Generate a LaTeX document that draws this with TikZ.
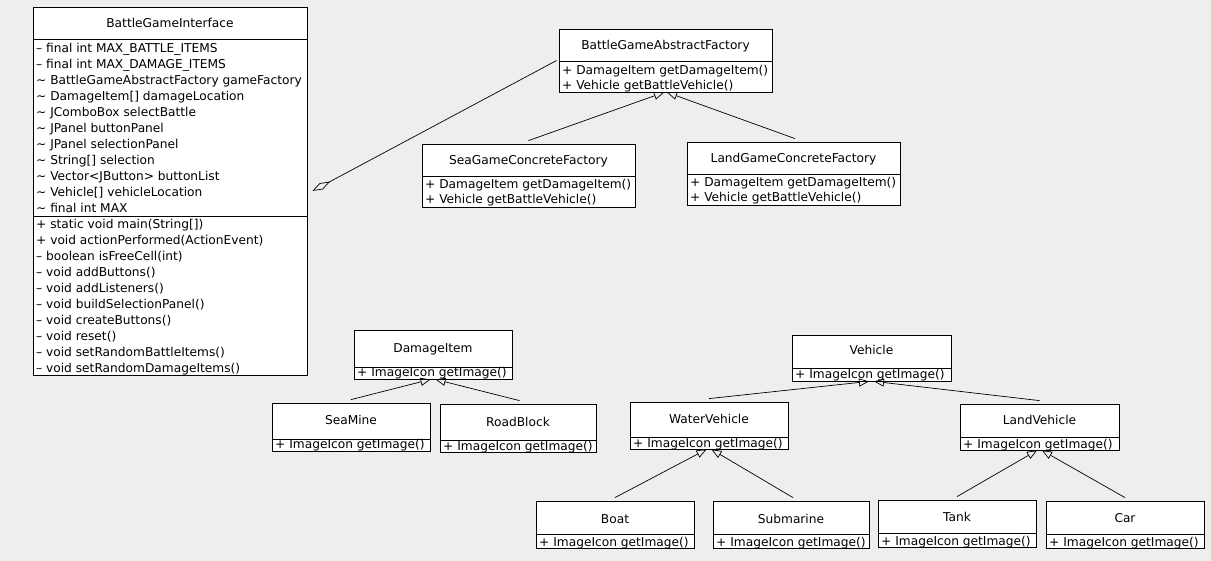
\documentclass[tikz,border=0pt]{standalone}
\usepackage{fontspec}
\setmainfont{DejaVu Sans}
\usetikzlibrary{arrows.meta}
\definecolor{canvas}{HTML}{EEEEEE}
\newcommand\vpkg{\textasciitilde\ }
% class frame: name, x0, y0, x1, y1, y of name separator, name text, name baseline
\newcommand\umlclass[8]{%
  \node[classbox, minimum width={(#4-#2)*1pt}, minimum height={(#5-#3)*1pt}]
    (#1) at ({(#2+#4)/2},{(#3+#5)/2}) {};
  \draw[sepline] (#1.west |- 0,#6) -- (#1.east |- 0,#6);
  \node[classname] (#1-name) at ({(#2+#4)/2},#8) {#7};
}
% one attribute or operation line: name, x, baseline, text
\newcommand\umlmember[4]{\node[member] (#1) at (#2,#3) {#4};}
\begin{document}
\begin{tikzpicture}[x=1pt,y=-1pt,
  every node/.style={font=\fontsize{12.2}{14}\selectfont},
  classbox/.style={draw, line width=0.8pt, fill=white, inner sep=0pt, rectangle},
  sepline/.style={line width=0.8pt},
  classname/.style={anchor=base, inner sep=0pt},
  member/.style={anchor=base west, inner sep=0pt},
  gen/.style={line width=0.7pt, -{Triangle[open, length=10pt, width=8pt]}},
  agg/.style={line width=0.7pt, {Diamond[open, length=20pt, width=7pt]}-}]
\fill[canvas] (0,0) rectangle (1211,561);
\useasboundingbox (0,0) rectangle (1211,561);

% main window class
\umlclass{bgi}{33}{7}{307}{375}{39}{BattleGameInterface}{27.5}
\draw[sepline] (bgi.west |- 0,216) -- (bgi.east |- 0,216);
\umlmember{bgi-a1}{36}{52.5}{– final int MAX\_BATTLE\_ITEMS}
\umlmember{bgi-a2}{36}{68.5}{– final int MAX\_DAMAGE\_ITEMS}
\umlmember{bgi-a3}{36}{84.5}{\vpkg BattleGameAbstractFactory gameFactory}
\umlmember{bgi-a4}{36}{100.5}{\vpkg DamageItem[] damageLocation}
\umlmember{bgi-a5}{36}{116.5}{\vpkg JComboBox selectBattle}
\umlmember{bgi-a6}{36}{132.5}{\vpkg JPanel buttonPanel}
\umlmember{bgi-a7}{36}{148.5}{\vpkg JPanel selectionPanel}
\umlmember{bgi-a8}{36}{164.5}{\vpkg String[] selection}
\umlmember{bgi-a9}{36}{180.5}{\vpkg Vector<JButton> buttonList}
\umlmember{bgi-a10}{36}{196.5}{\vpkg Vehicle[] vehicleLocation}
\umlmember{bgi-a11}{36}{212.5}{\vpkg final int MAX}
\umlmember{bgi-o1}{36}{228.5}{+ static void main(String[])}
\umlmember{bgi-o2}{36}{244.5}{+ void actionPerformed(ActionEvent)}
\umlmember{bgi-o3}{36}{260.5}{– boolean isFreeCell(int)}
\umlmember{bgi-o4}{36}{276.5}{– void addButtons()}
\umlmember{bgi-o5}{36}{292.5}{– void addListeners()}
\umlmember{bgi-o6}{36}{308.5}{– void buildSelectionPanel()}
\umlmember{bgi-o7}{36}{324.5}{– void createButtons()}
\umlmember{bgi-o8}{36}{340.5}{– void reset()}
\umlmember{bgi-o9}{36}{356.5}{– void setRandomBattleItems()}
\umlmember{bgi-o10}{36}{372.5}{– void setRandomDamageItems()}

% factories
\umlclass{abs}{559}{29}{772}{92}{61}{BattleGameAbstractFactory}{50}
\umlmember{abs-o1}{562}{74.5}{+ DamageItem getDamageItem()}
\umlmember{abs-o2}{562}{89.5}{+ Vehicle getBattleVehicle()}
\umlclass{sea}{422}{144}{635}{207}{176}{SeaGameConcreteFactory}{165}
\umlmember{sea-o1}{425}{188.5}{+ DamageItem getDamageItem()}
\umlmember{sea-o2}{425}{204}{+ Vehicle getBattleVehicle()}
\umlclass{land}{687}{142}{900}{205}{174}{LandGameConcreteFactory}{162.5}
\umlmember{land-o1}{690}{187}{+ DamageItem getDamageItem()}
\umlmember{land-o2}{690}{202}{+ Vehicle getBattleVehicle()}

% damage items
\umlclass{dmg}{354}{330}{512}{379}{367}{DamageItem}{353}
\umlmember{dmg-o1}{357}{377}{+ ImageIcon getImage()}
\umlclass{mine}{272}{403}{430}{451}{439}{SeaMine}{424.5}
\umlmember{mine-o1}{275}{449}{+ ImageIcon getImage()}
\umlclass{road}{440}{404}{596}{452}{440}{RoadBlock}{426}
\umlmember{road-o1}{443}{450}{+ ImageIcon getImage()}

% vehicles
\umlclass{veh}{792}{335}{951}{381}{368}{Vehicle}{354.5}
\umlmember{veh-o1}{795}{379}{+ ImageIcon getImage()}
\umlclass{water}{630}{402}{788}{449}{437}{WaterVehicle}{424}
\umlmember{water-o1}{633}{447.5}{+ ImageIcon getImage()}
\umlclass{landv}{960}{404}{1119}{450}{437}{LandVehicle}{424.5}
\umlmember{landv-o1}{963}{448.5}{+ ImageIcon getImage()}
\umlclass{boat}{536}{501}{694}{548}{534}{Boat}{523}
\umlmember{boat-o1}{539}{546}{+ ImageIcon getImage()}
\umlclass{sub}{713}{501}{869}{548}{534}{Submarine}{523}
\umlmember{sub-o1}{716}{546}{+ ImageIcon getImage()}
\umlclass{tank}{878}{500}{1036}{547}{533}{Tank}{521}
\umlmember{tank-o1}{881}{545}{+ ImageIcon getImage()}
\umlclass{car}{1046}{501}{1204}{548}{534}{Car}{522}
\umlmember{car-o1}{1049}{546}{+ ImageIcon getImage()}

% association from the window to the factory
\draw[agg] ([xshift=5pt]bgi.east) -- ([xshift=-2pt]abs.west);

% generalizations
\draw[gen] ([yshift=3pt]sea.north) -- ([xshift=-1.5pt]abs.south);
\draw[gen] ([xshift=1.5pt,yshift=3pt]land.north) -- ([xshift=1.5pt]abs.south);
\draw[gen] ([yshift=3pt]mine.north) -- ([xshift=-2.5pt]dmg.south);
\draw[gen] ([xshift=1.5pt,yshift=3pt]road.north) -- ([xshift=2.5pt]dmg.south);
\draw[gen] ([yshift=3pt]water.north) -- ([xshift=-2.5pt]veh.south);
\draw[gen] ([yshift=3pt]landv.north) -- ([xshift=2.5pt]veh.south);
\draw[gen] ([yshift=3pt]boat.north) -- ([xshift=-2.5pt]water.south);
\draw[gen] ([xshift=2pt,yshift=3pt]sub.north) -- ([xshift=2.5pt]water.south);
\draw[gen] ([yshift=3pt]tank.north) -- ([xshift=-2.5pt]landv.south);
\draw[gen] ([yshift=3pt]car.north) -- ([xshift=2.5pt]landv.south);
\end{tikzpicture}
\end{document}
